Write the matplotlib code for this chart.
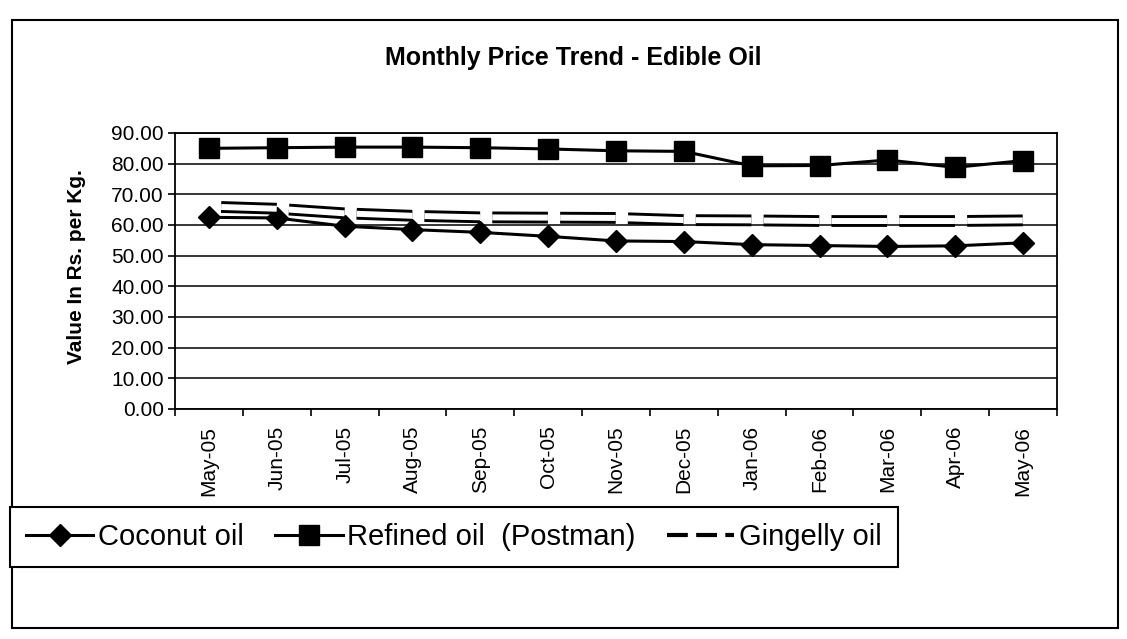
import matplotlib
matplotlib.use("Agg")
import matplotlib.pyplot as plt
from matplotlib.lines import Line2D
from matplotlib.patches import Rectangle
from matplotlib.ticker import FormatStrFormatter, FixedLocator

plt.rcParams['font.family'] = ['Liberation Sans', 'DejaVu Sans']
plt.rcParams['lines.scale_dashes'] = False

# Monthly retail prices (Rs. per Kg.)
months = ['May-05', 'Jun-05', 'Jul-05', 'Aug-05', 'Sep-05', 'Oct-05', 'Nov-05',
          'Dec-05', 'Jan-06', 'Feb-06', 'Mar-06', 'Apr-06', 'May-06']
coconut_oil = [62.5, 62.3, 59.6, 58.5, 57.6, 56.3, 54.8, 54.6, 53.6, 53.3, 53.0, 53.2, 54.2]
refined_oil = [85.0, 85.2, 85.4, 85.4, 85.2, 84.8, 84.2, 84.0, 79.3, 79.4, 81.2, 78.8, 81.0]
gingelly_oil = [66.0, 65.3, 63.8, 63.0, 62.5, 62.4, 62.3, 61.6, 61.5, 61.3, 61.3, 61.3, 61.5]
y_ticks = [0, 10, 20, 30, 40, 50, 60, 70, 80, 90]

W, H = 1127, 639
fig = plt.figure(figsize=(W / 100, H / 100), dpi=100)
fig.patch.set_facecolor('white')

# plot area
L, R, T, B = 175, 1057, 133, 409
ax = fig.add_axes([L / W, 1 - B / H, (R - L) / W, (B - T) / H])
x = list(range(len(months)))
ax.set_xlim(-0.5, len(months) - 0.5)
ax.set_ylim(0, 90)

ax.yaxis.set_major_locator(FixedLocator(y_ticks))
ax.yaxis.set_major_formatter(FormatStrFormatter('%.2f'))
ax.grid(axis='y', color='black', linewidth=1.1)
ax.set_axisbelow(True)
for s in ax.spines.values():
    s.set_color('black')
    s.set_linewidth(1.3)

ax.set_xticks(x)
ax.set_xticklabels(months, rotation=90, fontsize=15)
ax.set_xticks([i - 0.5 for i in range(len(months) + 1)], minor=True)
ax.tick_params(axis='x', which='major', length=0, pad=12)
ax.tick_params(axis='x', which='minor', length=5, width=1.2, direction='out')
ax.tick_params(axis='y', length=5, width=1.2, direction='out', labelsize=15, pad=3)

# one category slot in points, used for the long-dash pattern
slot_pt = (R - L) / len(months) * 72 / fig.dpi
dash, gap = 0.82 * slot_pt, 0.18 * slot_pt
dash_style = (dash, (dash, gap))

coco_line, = ax.plot(x, coconut_oil, color='black', lw=2.2, marker='D',
                     markersize=11.5, zorder=3)
ax.plot(x, gingelly_oil, color='black', lw=8.5, linestyle=dash_style,
        dash_capstyle='butt', zorder=4)
ax.plot(x, gingelly_oil, color='white', lw=4.3, linestyle=dash_style,
        dash_capstyle='butt', zorder=4.1)
ref_line, = ax.plot(x, refined_oil, color='black', lw=2.2, marker='s',
                    markersize=15, zorder=5)

# chart frame
fig.patches.append(Rectangle((12 / W, 1 - 628 / H), (1118 - 12) / W, (628 - 20) / H,
                             transform=fig.transFigure, fill=False,
                             edgecolor='black', linewidth=1.5))

fig.text(573 / W, 1 - 58 / H, 'Monthly Price Trend - Edible Oil',
         ha='center', va='center', fontsize=18, fontweight='bold')
fig.text(77 / W, 1 - 267 / H, 'Value In Rs. per Kg.', rotation=90,
         ha='center', va='center', fontsize=15, fontweight='bold')

ging_handle = Line2D([], [], color='black', lw=3, linestyle=(0, (15, 6)))
leg = fig.legend([coco_line, ref_line, ging_handle],
                 ['Coconut oil', 'Refined oil  (Postman)', 'Gingelly oil'],
                 loc='upper left', bbox_to_anchor=(10 / W, 1 - 507 / H),
                 ncol=3, fontsize=21, frameon=True, fancybox=False,
                 edgecolor='black', framealpha=1, handlelength=2.3,
                 handletextpad=0.15, columnspacing=1.1, borderpad=0.55,
                 borderaxespad=0)
leg.get_frame().set_linewidth(1.5)

fig.savefig('out.png', dpi=100)
